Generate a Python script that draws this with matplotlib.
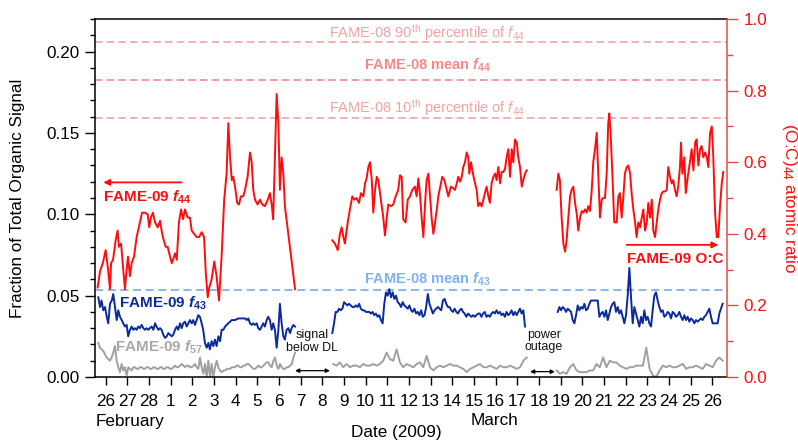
import numpy as np
import matplotlib
matplotlib.use("Agg")
import matplotlib.pyplot as plt
from matplotlib.ticker import MultipleLocator

plt.rcParams['font.family'] = ['Liberation Sans', 'DejaVu Sans']
plt.rcParams['mathtext.fontset'] = 'custom'
plt.rcParams['mathtext.rm'] = 'Liberation Sans'
plt.rcParams['mathtext.it'] = 'Liberation Sans:italic'
plt.rcParams['mathtext.bf'] = 'Liberation Sans:bold'
plt.rcParams['mathtext.bfit'] = 'Liberation Sans:italic:bold'

# x = days since 26 Feb 2009 00:00
day_labels = ['26', '27', '28'] + [str(d) for d in range(1, 27)]

# FAME-08 reference values
f44_p90 = 0.2057
f44_mean = 0.1826
f44_p10 = 0.1594
f43_mean = 0.0535

# --- FAME-09 f44 (three segments, gaps = signal below DL / power outage)
f44_d1 = [-0.37, -0.26, -0.13, 0.00, 0.11, 0.20, 0.25, 0.34, 0.46, 0.55,
          0.61, 0.71, 0.80, 0.89, 0.97, 1.03, 1.12, 1.20, 1.31, 1.43,
          1.58, 1.68, 1.81, 1.94, 2.01, 2.09, 2.18, 2.28, 2.40, 2.51,
          2.58, 2.64, 2.77, 2.86, 2.97, 3.05, 3.11, 3.20, 3.28, 3.38,
          3.48, 3.57, 3.66, 3.78, 3.89, 3.97, 4.08, 4.20, 4.31, 4.43,
          4.54, 4.62, 4.71, 4.78, 4.89, 5.01, 5.12, 5.23, 5.35, 5.47,
          5.58, 5.66, 5.74, 5.82, 5.89, 5.97, 6.07, 6.15, 6.24, 6.35,
          6.43, 6.55, 6.66, 6.74, 6.81, 6.89, 7.01, 7.12, 7.23, 7.35,
          7.48, 7.58, 7.66, 7.73, 7.81, 7.89, 7.97, 8.04, 8.12, 8.20,
          8.27, 8.74]
f44_v1 = [0.055, 0.065, 0.070, 0.078, 0.066, 0.054, 0.070, 0.072, 0.084, 0.090,
          0.080, 0.082, 0.068, 0.054, 0.066, 0.074, 0.062, 0.070, 0.074, 0.086,
          0.095, 0.101, 0.101, 0.100, 0.092, 0.098, 0.101, 0.095, 0.092, 0.096,
          0.090, 0.086, 0.080, 0.080, 0.074, 0.070, 0.072, 0.076, 0.072, 0.095,
          0.103, 0.097, 0.103, 0.098, 0.098, 0.090, 0.088, 0.086, 0.086, 0.089,
          0.086, 0.064, 0.049, 0.055, 0.060, 0.071, 0.062, 0.047, 0.074, 0.109,
          0.125, 0.156, 0.135, 0.121, 0.123, 0.117, 0.107, 0.106, 0.111, 0.111,
          0.115, 0.123, 0.138, 0.132, 0.115, 0.109, 0.106, 0.109, 0.106, 0.105,
          0.109, 0.113, 0.106, 0.097, 0.135, 0.174, 0.156, 0.115, 0.135, 0.125,
          0.105, 0.054]

f44_d2 = [10.46, 10.58, 10.71, 10.81, 10.89, 10.97, 11.04, 11.17, 11.27, 11.38,
          11.47, 11.58, 11.69, 11.78, 11.89, 11.97, 12.04, 12.12, 12.20, 12.28,
          12.35, 12.43, 12.51, 12.58, 12.70, 12.81, 12.89, 12.97, 13.04, 13.17,
          13.27, 13.38, 13.50, 13.58, 13.66, 13.73, 13.84, 13.94, 14.04, 14.15,
          14.27, 14.35, 14.43, 14.50, 14.58, 14.66, 14.74, 14.81, 14.89, 14.97,
          15.04, 15.12, 15.20, 15.28, 15.35, 15.47, 15.53, 15.63, 15.74, 15.81,
          15.93, 16.04, 16.12, 16.20, 16.27, 16.35, 16.43, 16.50, 16.58, 16.66,
          16.73, 16.78, 16.86, 16.92, 17.01, 17.12, 17.19, 17.27, 17.35, 17.43,
          17.50, 17.58, 17.66, 17.73, 17.81, 17.89, 17.97, 18.04, 18.12, 18.20,
          18.27, 18.35, 18.43, 18.50, 18.58, 18.66, 18.74, 18.81, 18.89, 18.97,
          19.04, 19.12, 19.20, 19.27, 19.35, 19.43]
f44_v2 = [0.084, 0.082, 0.078, 0.088, 0.092, 0.086, 0.082, 0.095, 0.103, 0.111,
          0.109, 0.110, 0.107, 0.113, 0.111, 0.119, 0.122, 0.129, 0.132, 0.121,
          0.101, 0.115, 0.123, 0.121, 0.109, 0.098, 0.087, 0.098, 0.106, 0.105,
          0.106, 0.111, 0.115, 0.124, 0.123, 0.097, 0.095, 0.109, 0.111, 0.115,
          0.117, 0.111, 0.122, 0.113, 0.098, 0.086, 0.107, 0.121, 0.125, 0.111,
          0.098, 0.088, 0.095, 0.103, 0.111, 0.119, 0.123, 0.121, 0.115, 0.111,
          0.117, 0.116, 0.115, 0.119, 0.123, 0.120, 0.123, 0.129, 0.132, 0.138,
          0.135, 0.125, 0.132, 0.127, 0.121, 0.115, 0.105, 0.107, 0.105, 0.109,
          0.113, 0.117, 0.111, 0.107, 0.119, 0.123, 0.125, 0.121, 0.129, 0.119,
          0.126, 0.126, 0.128, 0.135, 0.140, 0.123, 0.140, 0.132, 0.146, 0.144,
          0.135, 0.129, 0.117, 0.121, 0.125, 0.127]

f44_d3 = [20.81, 20.89, 20.96, 21.04, 21.12, 21.20, 21.27, 21.35, 21.43, 21.50,
          21.58, 21.66, 21.74, 21.81, 21.89, 21.97, 22.04, 22.12, 22.20, 22.27,
          22.35, 22.43, 22.50, 22.58, 22.66, 22.73, 22.81, 22.89, 22.96, 23.04,
          23.12, 23.19, 23.24, 23.30, 23.38, 23.47, 23.58, 23.66, 23.73, 23.81,
          23.89, 23.96, 24.04, 24.12, 24.20, 24.27, 24.35, 24.43, 24.50, 24.58,
          24.66, 24.74, 24.81, 24.89, 24.97, 25.04, 25.12, 25.20, 25.27, 25.35,
          25.43, 25.50, 25.58, 25.66, 25.73, 25.81, 25.89, 25.96, 26.04, 26.12,
          26.19, 26.27, 26.35, 26.42, 26.50, 26.55, 26.61, 26.70, 26.77, 26.86,
          26.96, 27.04, 27.12, 27.20, 27.27, 27.35, 27.43, 27.50, 27.58, 27.66,
          27.74, 27.81, 27.89, 27.97, 28.04, 28.12, 28.20, 28.27, 28.35, 28.43,
          28.50]
f44_v3 = [0.115, 0.125, 0.121, 0.098, 0.082, 0.077, 0.084, 0.098, 0.111, 0.115,
          0.117, 0.107, 0.100, 0.090, 0.098, 0.102, 0.101, 0.103, 0.101, 0.105,
          0.102, 0.115, 0.132, 0.140, 0.150, 0.125, 0.098, 0.109, 0.110, 0.110,
          0.125, 0.156, 0.162, 0.150, 0.125, 0.095, 0.095, 0.111, 0.113, 0.098,
          0.111, 0.125, 0.129, 0.130, 0.125, 0.113, 0.103, 0.095, 0.086, 0.095,
          0.092, 0.098, 0.103, 0.090, 0.095, 0.107, 0.098, 0.109, 0.090, 0.086,
          0.095, 0.103, 0.109, 0.113, 0.114, 0.114, 0.115, 0.129, 0.123, 0.119,
          0.121, 0.115, 0.111, 0.117, 0.129, 0.144, 0.125, 0.135, 0.113, 0.123,
          0.132, 0.140, 0.127, 0.144, 0.146, 0.130, 0.140, 0.142, 0.135, 0.138,
          0.135, 0.129, 0.150, 0.154, 0.135, 0.101, 0.086, 0.086, 0.105, 0.119,
          0.126]

# --- FAME-09 f43
f43_d1 = [-0.34, -0.26, -0.19, -0.11, -0.03, 0.05, 0.12, 0.20, 0.28, 0.35,
          0.43, 0.51, 0.58, 0.66, 0.74, 0.81, 0.89, 0.97, 1.04, 1.12,
          1.20, 1.27, 1.35, 1.43, 1.50, 1.58, 1.66, 1.74, 1.81, 1.89,
          1.97, 2.04, 2.12, 2.20, 2.28, 2.35, 2.43, 2.51, 2.58, 2.66,
          2.74, 2.82, 2.89, 2.97, 3.05, 3.12, 3.20, 3.28, 3.35, 3.43,
          3.51, 3.58, 3.66, 3.74, 3.81, 3.89, 3.97, 4.04, 4.12, 4.20,
          4.27, 4.35, 4.43, 4.50, 4.58, 4.66, 4.74, 4.81, 4.89, 4.97,
          5.04, 5.12, 5.20, 5.28, 5.35, 5.43, 5.51, 5.58, 5.66, 5.74,
          5.82, 5.97, 6.12, 6.28, 6.43, 6.51, 6.58, 6.66, 6.74, 6.81,
          6.89, 6.97, 7.04, 7.12, 7.20, 7.27, 7.35, 7.43, 7.50, 7.58,
          7.66, 7.73, 7.81, 7.89, 7.97, 8.04, 8.12, 8.20, 8.27, 8.35,
          8.43, 8.51, 8.58, 8.66, 8.74]
f43_v1 = [0.049, 0.043, 0.047, 0.041, 0.043, 0.037, 0.033, 0.045, 0.047, 0.051,
          0.043, 0.035, 0.041, 0.037, 0.035, 0.033, 0.031, 0.032, 0.025, 0.029,
          0.031, 0.029, 0.030, 0.029, 0.031, 0.030, 0.032, 0.030, 0.029, 0.030,
          0.029, 0.030, 0.031, 0.029, 0.033, 0.031, 0.029, 0.030, 0.029, 0.026,
          0.024, 0.025, 0.027, 0.026, 0.025, 0.026, 0.029, 0.031, 0.029, 0.033,
          0.030, 0.033, 0.034, 0.031, 0.033, 0.035, 0.033, 0.035, 0.032, 0.035,
          0.038, 0.037, 0.033, 0.029, 0.021, 0.018, 0.021, 0.017, 0.022, 0.019,
          0.023, 0.019, 0.025, 0.022, 0.029, 0.029, 0.031, 0.032, 0.033, 0.034,
          0.035, 0.035, 0.036, 0.036, 0.036, 0.035, 0.036, 0.033, 0.032, 0.033,
          0.032, 0.033, 0.030, 0.029, 0.031, 0.033, 0.031, 0.035, 0.037, 0.035,
          0.029, 0.033, 0.029, 0.018, 0.029, 0.045, 0.033, 0.025, 0.023, 0.029,
          0.030, 0.027, 0.030, 0.032, 0.031]

# regular sampling between first and last time stamp
f43_t2 = (10.46, 19.35)
f43_v2 = [0.027, 0.033, 0.040, 0.040, 0.042, 0.041, 0.042, 0.046, 0.045, 0.044,
          0.045, 0.044, 0.043, 0.043, 0.044, 0.043, 0.045, 0.042, 0.041, 0.041,
          0.040, 0.040, 0.040, 0.039, 0.040, 0.038, 0.039, 0.037, 0.038, 0.035,
          0.033, 0.045, 0.052, 0.050, 0.054, 0.049, 0.052, 0.048, 0.050, 0.046,
          0.045, 0.043, 0.046, 0.044, 0.043, 0.042, 0.044, 0.041, 0.040, 0.042,
          0.039, 0.040, 0.038, 0.041, 0.037, 0.038, 0.043, 0.051, 0.045, 0.042,
          0.039, 0.041, 0.042, 0.043, 0.042, 0.041, 0.047, 0.048, 0.045, 0.043,
          0.043, 0.041, 0.040, 0.042, 0.040, 0.039, 0.041, 0.042, 0.040, 0.039,
          0.037, 0.039, 0.038, 0.037, 0.038, 0.037, 0.038, 0.039, 0.039, 0.037,
          0.039, 0.040, 0.037, 0.038, 0.037, 0.039, 0.040, 0.039, 0.041, 0.039,
          0.040, 0.038, 0.039, 0.037, 0.040, 0.038, 0.039, 0.041, 0.038, 0.040,
          0.038, 0.040, 0.042, 0.039, 0.041, 0.031]

f43_t3 = (20.86, 28.47)
f43_v3 = [0.040, 0.043, 0.041, 0.043, 0.042, 0.040, 0.042, 0.041, 0.040, 0.035,
          0.033, 0.038, 0.044, 0.041, 0.043, 0.042, 0.045, 0.041, 0.042, 0.045,
          0.047, 0.047, 0.047, 0.047, 0.047, 0.037, 0.039, 0.040, 0.037, 0.041,
          0.035, 0.039, 0.043, 0.045, 0.046, 0.040, 0.043, 0.039, 0.041, 0.037,
          0.033, 0.038, 0.050, 0.067, 0.049, 0.033, 0.043, 0.039, 0.035, 0.031,
          0.037, 0.033, 0.041, 0.035, 0.037, 0.033, 0.031, 0.041, 0.050, 0.052,
          0.047, 0.043, 0.040, 0.041, 0.037, 0.038, 0.040, 0.039, 0.036, 0.040,
          0.039, 0.037, 0.038, 0.040, 0.037, 0.035, 0.038, 0.035, 0.037, 0.034,
          0.036, 0.035, 0.033, 0.035, 0.034, 0.035, 0.036, 0.035, 0.037, 0.038,
          0.040, 0.042, 0.037, 0.033, 0.033, 0.033, 0.033, 0.039, 0.042, 0.045]

# --- FAME-09 f57
f57_t1 = (-0.34, 8.74)
f57_v1 = [0.021, 0.018, 0.017, 0.016, 0.014, 0.012, 0.011, 0.010, 0.012, 0.015,
          0.019, 0.010, 0.006, 0.003, 0.008, 0.004, 0.006, 0.001, 0.006, 0.005,
          0.004, 0.006, 0.006, 0.005, 0.005, 0.006, 0.006, 0.005, 0.005, 0.006,
          0.006, 0.005, 0.005, 0.006, 0.006, 0.005, 0.005, 0.006, 0.006, 0.005,
          0.005, 0.006, 0.006, 0.005, 0.005, 0.006, 0.007, 0.006, 0.006, 0.007,
          0.008, 0.007, 0.006, 0.007, 0.007, 0.006, 0.006, 0.007, 0.008, 0.006,
          0.005, 0.012, 0.006, 0.002, 0.008, 0.000, 0.010, 0.000, 0.008, 0.000,
          0.006, 0.010, 0.006, 0.004, 0.003, 0.004, 0.004, 0.005, 0.005, 0.005,
          0.006, 0.006, 0.006, 0.007, 0.007, 0.006, 0.006, 0.007, 0.007, 0.008,
          0.008, 0.007, 0.006, 0.005, 0.005, 0.006, 0.007, 0.006, 0.006, 0.007,
          0.008, 0.009, 0.009, 0.007, 0.006, 0.010, 0.012, 0.007, 0.005, 0.008,
          0.006, 0.005, 0.005, 0.006, 0.006, 0.007, 0.008, 0.012, 0.015]

f57_t2 = (10.50, 19.43)
f57_v2 = [0.008, 0.007, 0.009, 0.006, 0.008, 0.006, 0.007, 0.007, 0.006, 0.008,
          0.007, 0.007, 0.008, 0.007, 0.008, 0.010, 0.015, 0.011, 0.010, 0.017,
          0.009, 0.006, 0.008, 0.007, 0.006, 0.008, 0.009, 0.006, 0.013, 0.006,
          0.004, 0.006, 0.007, 0.006, 0.007, 0.008, 0.007, 0.007, 0.006, 0.005,
          0.003, 0.005, 0.006, 0.007, 0.008, 0.006, 0.006, 0.007, 0.006, 0.005,
          0.007, 0.006, 0.006, 0.007, 0.006, 0.005, 0.006, 0.010, 0.012]

f57_t3 = (20.81, 28.47)
f57_v3 = [0.004, 0.002, 0.003, 0.002, 0.006, 0.008, 0.004, 0.003, 0.003, 0.003,
          0.004, 0.004, 0.008, 0.006, 0.012, 0.006, 0.010, 0.009, 0.009, 0.007,
          0.006, 0.005, 0.006, 0.006, 0.007, 0.007, 0.007, 0.018, 0.005, 0.001,
          0.000, 0.004, 0.007, 0.006, 0.007, 0.006, 0.006, 0.007, 0.008, 0.005,
          0.006, 0.006, 0.007, 0.006, 0.005, 0.008, 0.007, 0.006, 0.010, 0.012,
          0.010]

RED = '#ff0d0d'
BLUE = '#0b2a9c'
GRAY = '#a0a0a0'
PINK = '#f5a3a3'
PINK_MEAN = '#f28a8a'
LBLUE = '#7eb2f2'
AXRED = '#e24a4a'
FS = 12.3

fig = plt.figure(figsize=(7.98, 4.41), dpi=100)
ax = fig.add_axes([0.119, 0.1451, 0.792, 0.8118])

# reference lines (FAME-08)
dash = (0, (4.5, 2.5))
ax.axhline(f44_p90, color=PINK, lw=1.2, ls=dash, zorder=1)
ax.axhline(f44_mean, color=PINK_MEAN, lw=1.2, ls=dash, zorder=1)
ax.axhline(f44_p10, color=PINK, lw=1.2, ls=dash, zorder=1)
ax.axhline(f43_mean, color=LBLUE, lw=1.3, ls=dash, zorder=1)

# f57
for t, v in [(f57_t1, f57_v1), (f57_t2, f57_v2), (f57_t3, f57_v3)]:
    ax.plot(np.linspace(t[0], t[1], len(v)), v, color=GRAY, lw=1.4, zorder=2)
# f43
ax.plot(f43_d1, f43_v1, color=BLUE, lw=1.4, zorder=3)
for t, v in [(f43_t2, f43_v2), (f43_t3, f43_v3)]:
    ax.plot(np.linspace(t[0], t[1], len(v)), v, color=BLUE, lw=1.4, zorder=3)
# f44
for d, v in [(f44_d1, f44_v1), (f44_d2, f44_v2), (f44_d3, f44_v3)]:
    ax.plot(d, v, color=RED, lw=1.4, zorder=4)

ax.set_xlim(-0.494, 28.67)
ax.set_ylim(0, 0.22)
ax.set_xticks(range(len(day_labels)))
ax.set_xticklabels(day_labels)
ax.yaxis.set_major_locator(MultipleLocator(0.05))
ax.yaxis.set_minor_locator(MultipleLocator(0.01))
ax.yaxis.set_major_formatter(matplotlib.ticker.FormatStrFormatter('%.2f'))
ax.tick_params(axis='x', direction='out', length=6, width=1, pad=6, labelsize=FS)
ax.tick_params(axis='y', which='major', direction='out', length=7, width=1, pad=4, labelsize=FS)
ax.tick_params(axis='y', which='minor', direction='out', length=3.5, width=1)
ax.spines['right'].set_visible(False)
for s in ['left', 'top', 'bottom']:
    ax.spines[s].set_linewidth(1.1)
ax.set_ylabel('Fraction of Total Organic Signal', fontsize=FS, va='center')
ax.yaxis.set_label_coords(-0.123, 0.5)

# right axis
ax2 = ax.twinx()
ax2.set_ylim(0, 1.0)
ax2.yaxis.set_major_locator(MultipleLocator(0.2))
ax2.yaxis.set_minor_locator(MultipleLocator(0.1))
ax2.yaxis.set_major_formatter(matplotlib.ticker.FormatStrFormatter('%.1f'))
for s in ['left', 'top', 'bottom']:
    ax2.spines[s].set_visible(False)
ax2.spines['right'].set_color(AXRED)
ax2.spines['right'].set_linewidth(1.1)
ax2.tick_params(axis='y', which='major', direction='out', length=8, width=1,
                color=AXRED, labelcolor=RED, pad=4, labelsize=FS)
ax2.tick_params(axis='y', which='minor', direction='out', length=4, width=1, color=AXRED)
ax2.set_ylabel(r'(O:C)$_{44}$ atomic ratio', color=RED, fontsize=FS,
               rotation=270, va='center')
ax2.yaxis.set_label_coords(1.099, 0.5)

# FAME-08 labels
ax.text(14.85, 0.2115, r'FAME-08 90$^{\mathrm{th}}$ percentile of $f_{44}$',
        color=PINK, fontsize=10.5, ha='center', va='center')
ax.text(14.87, 0.1917, r'FAME-08 mean $\mathbfit{f}_{\mathbf{44}}$',
        color=PINK_MEAN, fontsize=10.5, fontweight='bold', ha='center', va='center')
ax.text(14.85, 0.1655, r'FAME-08 10$^{\mathrm{th}}$ percentile of $f_{44}$',
        color=PINK, fontsize=10.5, ha='center', va='center')
ax.text(14.87, 0.0603, r'FAME-08 mean $\mathbfit{f}_{\mathbf{43}}$',
        color=LBLUE, fontsize=10.5, fontweight='bold', ha='center', va='center')

# FAME-09 labels
ax.text(-0.12, 0.1079, r'FAME-09 $\mathbfit{f}_{\mathbf{44}}$', color=RED,
        fontsize=11, fontweight='bold', ha='left', va='baseline', zorder=6)
ax.annotate('', xy=(-0.11, 0.1196), xytext=(3.51, 0.1196),
            arrowprops=dict(arrowstyle='-|>', color=RED, lw=1.3,
                            mutation_scale=9, shrinkA=0, shrinkB=0))
ax.text(28.50, 0.0703, 'FAME-09 O:C', color=RED, fontsize=11, fontweight='bold',
        ha='right', va='baseline', zorder=6)
ax.annotate('', xy=(28.27, 0.0812), xytext=(24.04, 0.0812),
            arrowprops=dict(arrowstyle='-|>', color=RED, lw=1.3,
                            mutation_scale=9, shrinkA=0, shrinkB=0))
ax.text(0.63, 0.0429, r'FAME-09 $\mathbfit{f}_{\mathbf{43}}$', color=BLUE,
        fontsize=11, fontweight='bold', ha='left', va='baseline', zorder=6)
ax.text(0.43, 0.0156, r'FAME-09 $\mathbfit{f}_{\mathbf{57}}$', color='#a8a8a8',
        fontsize=11, fontweight='bold', ha='left', va='baseline', zorder=6)

# gaps
ax.text(9.52, 0.0218, 'signal\nbelow DL', fontsize=9, ha='center', va='center',
        linespacing=1.05, color='#111111')
ax.annotate('', xy=(8.74, 0.0039), xytext=(10.35, 0.0039),
            arrowprops=dict(arrowstyle='<|-|>', color='black', lw=0.9,
                            mutation_scale=6, shrinkA=0, shrinkB=0))
ax.text(20.22, 0.0222, 'power\noutage', fontsize=9, ha='center', va='center',
        linespacing=1.05, color='#111111')
ax.annotate('', xy=(19.58, 0.0033), xytext=(20.73, 0.0033),
            arrowprops=dict(arrowstyle='<|-|>', color='black', lw=0.9,
                            mutation_scale=6, shrinkA=0, shrinkB=0))

# month / axis labels
fig.text(0.1203, 0.0431, 'February', fontsize=FS, ha='left', va='center')
fig.text(0.6203, 0.0476, 'March', fontsize=FS, ha='center', va='center')
fig.text(0.4962, 0.0204, 'Date (2009)', fontsize=FS, ha='center', va='center')

fig.savefig('out.png', dpi=100)
